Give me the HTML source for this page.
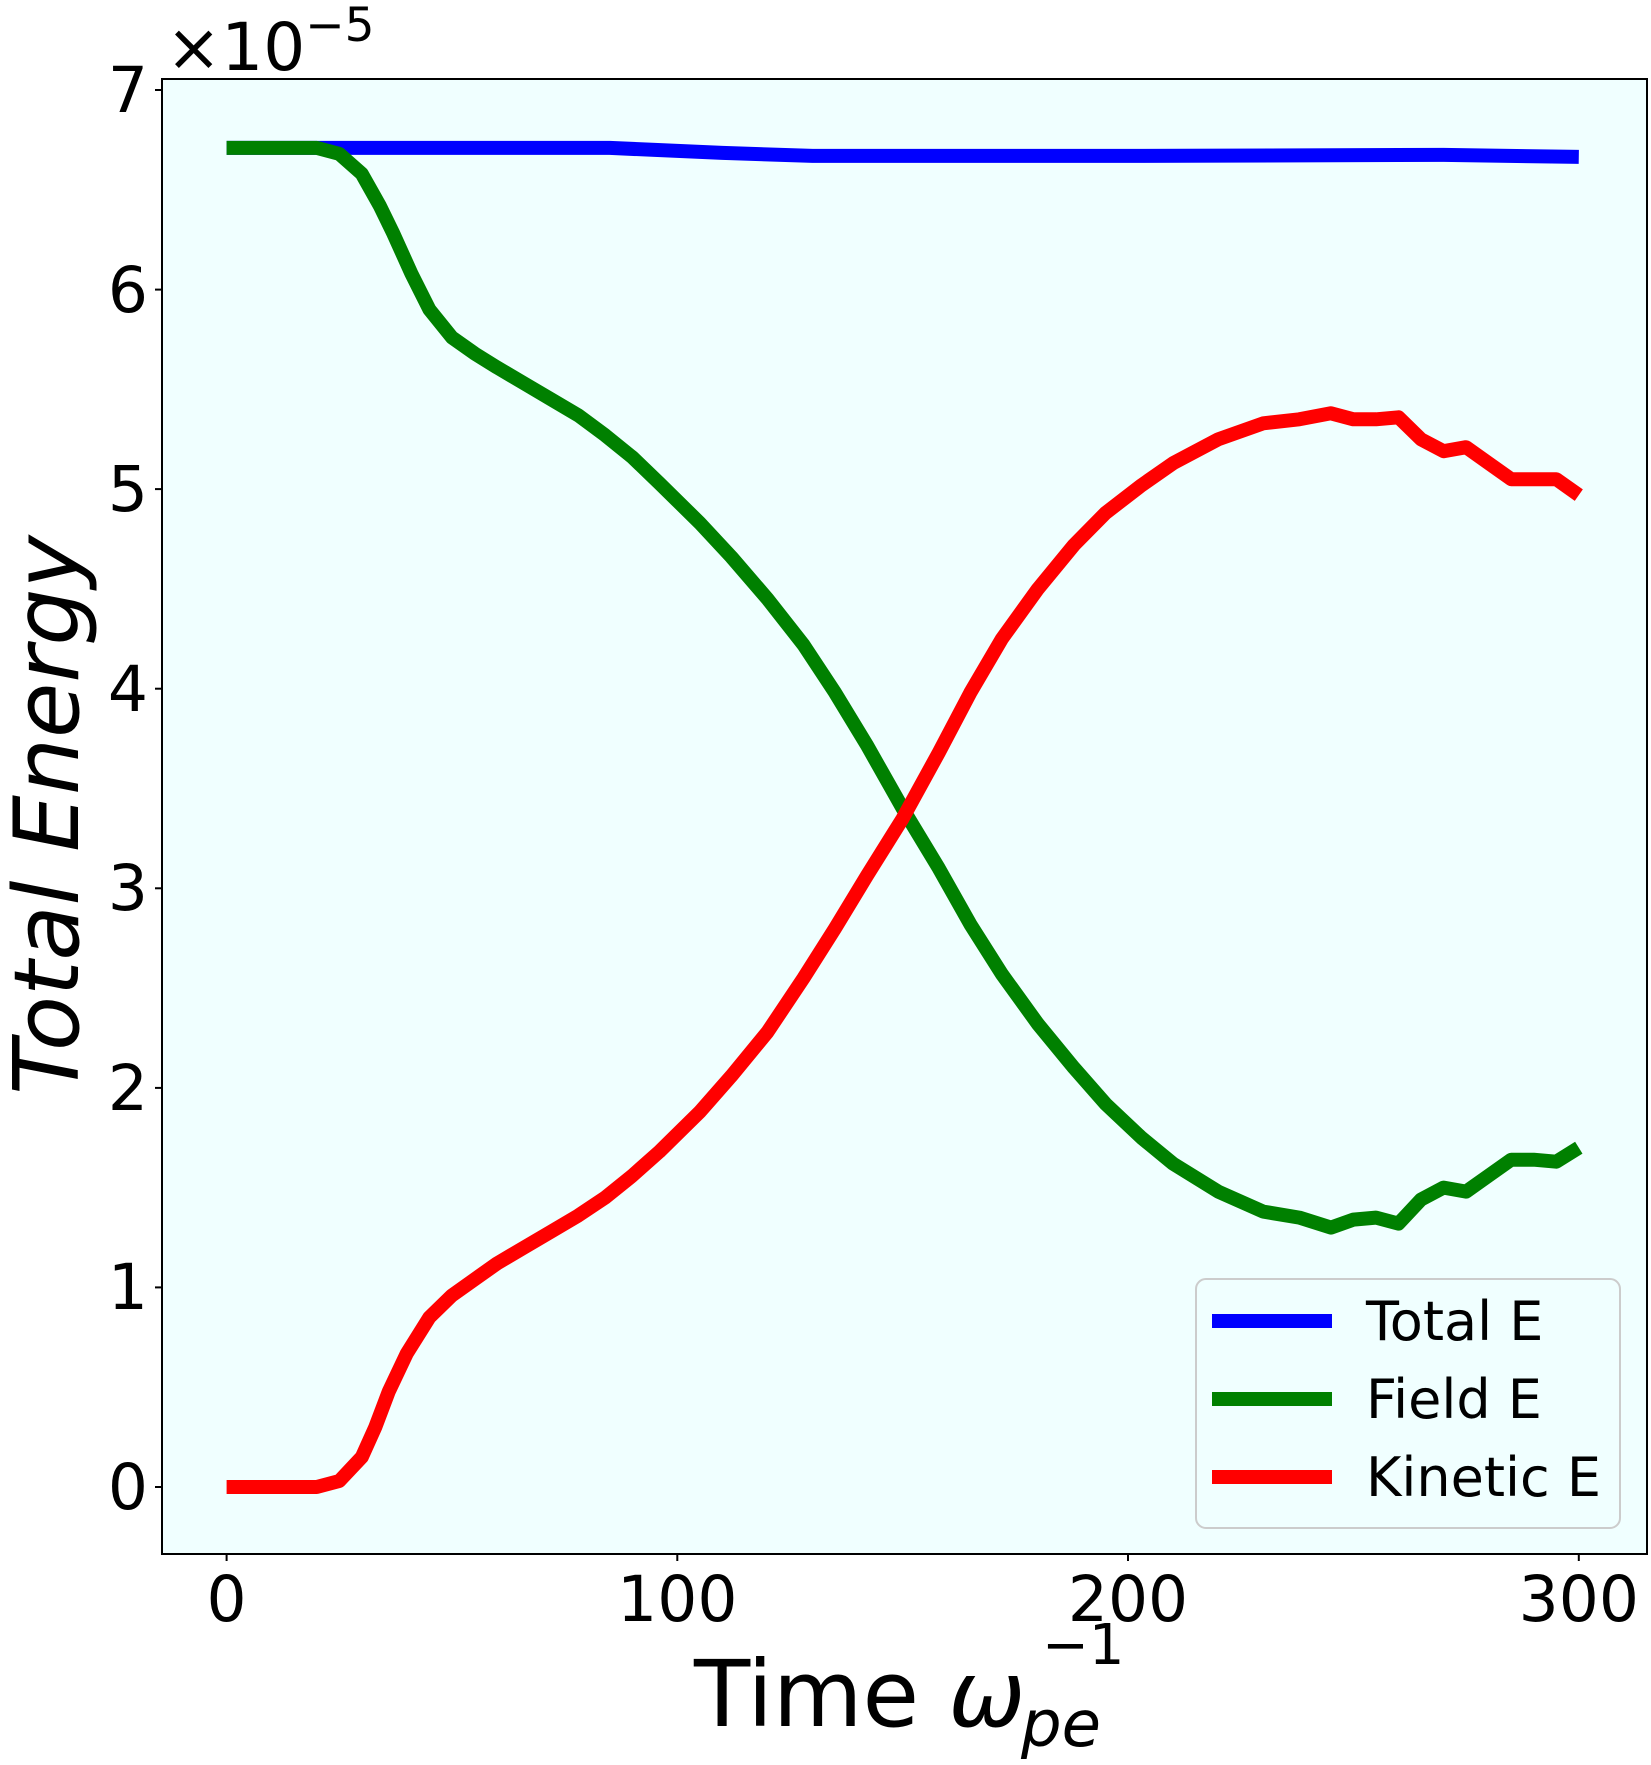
<!DOCTYPE html>
<html><head><meta charset="utf-8"><style>
html,body{margin:0;padding:0;background:#fff;}
svg{display:block;font-family:"DejaVu Sans","Liberation Sans",sans-serif;}
</style></head><body>
<svg id="s" width="1651" height="1765" viewBox="0 0 1651 1765" xmlns="http://www.w3.org/2000/svg">
<rect x="162" y="79" width="1485" height="1475" fill="#f0ffff"/>
<g id="lines" fill="none" stroke-width="14" stroke-linejoin="round"></g>
<rect x="162" y="79" width="1485" height="1475" fill="none" stroke="#000" stroke-width="2"/>
<g stroke="#000" stroke-width="2">
<line x1="155" y1="90" x2="162" y2="90"/><line x1="155" y1="289.6" x2="162" y2="289.6"/>
<line x1="155" y1="489.1" x2="162" y2="489.1"/><line x1="155" y1="688.7" x2="162" y2="688.7"/>
<line x1="155" y1="888.3" x2="162" y2="888.3"/><line x1="155" y1="1087.9" x2="162" y2="1087.9"/>
<line x1="155" y1="1287.4" x2="162" y2="1287.4"/><line x1="155" y1="1487" x2="162" y2="1487"/>
<line x1="226.6" y1="1554" x2="226.6" y2="1561"/><line x1="677.3" y1="1554" x2="677.3" y2="1561"/>
<line x1="1128" y1="1554" x2="1128" y2="1561"/><line x1="1578.8" y1="1554" x2="1578.8" y2="1561"/>
</g>
<g font-size="63" text-anchor="end" fill="#000">
<text x="148" y="112">7</text><text x="148" y="312">6</text><text x="148" y="511">5</text>
<text x="148" y="711">4</text><text x="148" y="910">3</text><text x="148" y="1110">2</text>
<text x="148" y="1309">1</text><text x="148" y="1509">0</text>
</g>
<g font-size="63" text-anchor="middle" fill="#000">
<text x="226.6" y="1621">0</text><text x="677.3" y="1621">100</text>
<text x="1128" y="1621">200</text><text x="1578.8" y="1621">300</text>
</g>
<text x="166" y="70" font-size="66">×10<tspan font-size="47" dy="-29">−5</tspan></text>
<text transform="translate(78,815) rotate(-90)" font-size="90" font-style="italic" text-anchor="middle">Total Energy</text>
<text x="694" y="1726" font-size="92">Time <tspan font-style="italic">ω</tspan></text>
<text x="1021" y="1746" font-size="64" font-style="italic">pe</text>
<text x="1042" y="1664" font-size="56">−1</text>
<rect x="1196" y="1279" width="424" height="249" rx="10" fill="#f0ffff" stroke="#ccc" stroke-width="2"/>
<g stroke-width="14"><line x1="1212" y1="1321" x2="1332" y2="1321" stroke="#0000ff"/>
<line x1="1212" y1="1399" x2="1332" y2="1399" stroke="#008000"/>
<line x1="1212" y1="1477" x2="1332" y2="1477" stroke="#ff0000"/></g>
<g font-size="54" fill="#000"><text x="1366" y="1340">Total E</text><text x="1366" y="1418">Field E</text><text x="1366" y="1496">Kinetic E</text></g>
</svg>
<script>
var X=function(t){return 226.6+t*4.5073},Y=function(v){return 1487-v*199.57};
var tot=[[0,6.71],[85,6.71],[95,6.70],[110,6.685],[130,6.67],[200,6.67],[270,6.675],[300,6.665]];
var fld=[[0,6.71],[20,6.71],[25,6.68],[30,6.58],[34,6.42],[37,6.28],[41,6.08],[45,5.9],[50,5.76],[55,5.68],[60,5.61],[66,5.53],[72,5.45],[78,5.37],[84,5.27],[90,5.16],[96,5.03],[105,4.83],[112,4.66],[120,4.45],[128,4.22],[135,3.98],[142,3.72],[150,3.4],[158,3.1],[165,2.82],[172,2.57],[180,2.32],[188,2.1],[195,1.92],[203,1.75],[210,1.62],[220,1.48],[230,1.38],[238,1.35],[245,1.3],[250,1.34],[255,1.35],[260,1.32],[265,1.44],[270,1.5],[275,1.48],[280,1.56],[285,1.64],[290,1.64],[295,1.63],[300,1.7]];
var kin=[[0,0],[20,0],[25,0.03],[30,0.15],[33,0.3],[36,0.48],[40,0.67],[45,0.85],[50,0.96],[55,1.04],[60,1.12],[66,1.2],[72,1.28],[78,1.36],[84,1.45],[90,1.56],[96,1.68],[105,1.88],[112,2.06],[120,2.28],[128,2.55],[135,2.8],[142,3.06],[150,3.35],[158,3.68],[165,3.98],[172,4.25],[180,4.5],[188,4.72],[195,4.88],[203,5.02],[210,5.13],[220,5.25],[230,5.33],[238,5.35],[245,5.38],[250,5.35],[255,5.35],[260,5.36],[265,5.25],[270,5.19],[275,5.21],[280,5.13],[285,5.05],[290,5.05],[295,5.05],[300,4.97]];
function p(d,c){var s=d.map(function(q,i){return(i?'L':'M')+X(q[0]).toFixed(1)+' '+Y(q[1]).toFixed(1)}).join(' ');
return '<path d="'+s+'" stroke="'+c+'"/>';}
document.getElementById('lines').innerHTML=p(tot,'#0000ff')+p(fld,'#008000')+p(kin,'#ff0000');
</script>
</body></html>
